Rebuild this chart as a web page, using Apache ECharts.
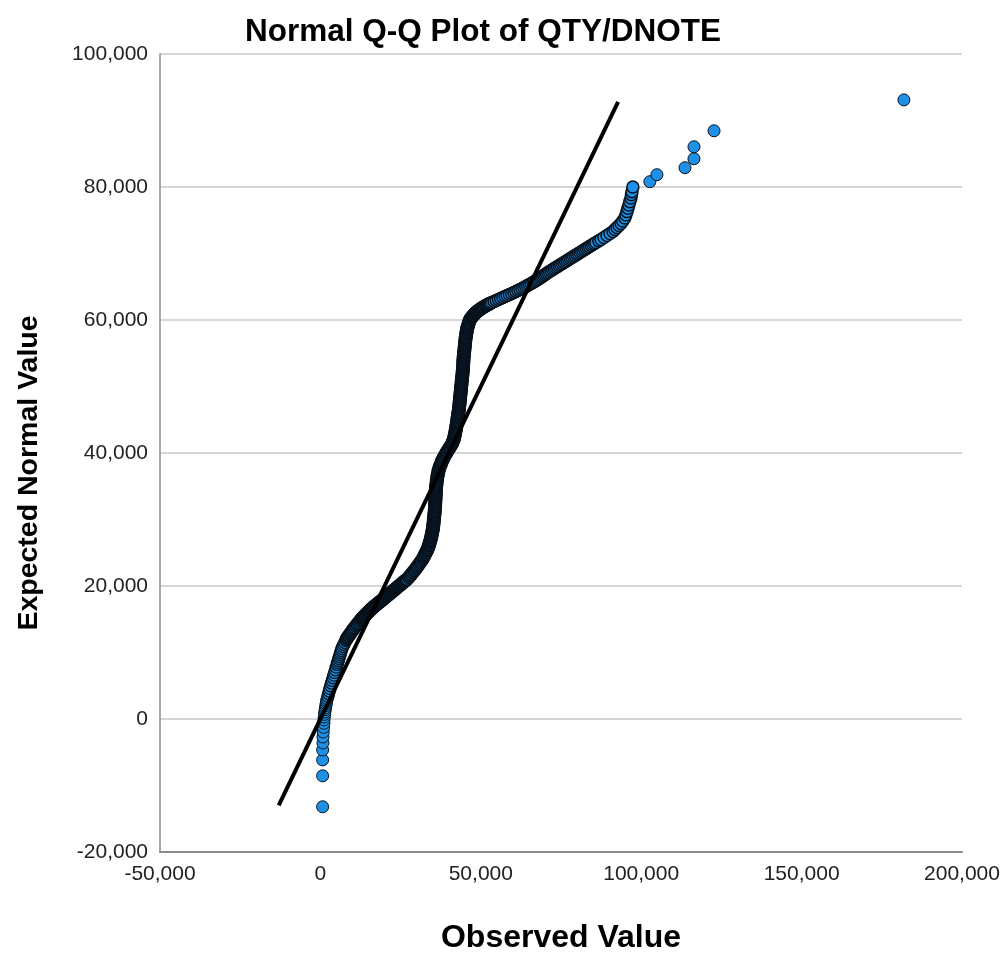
<!DOCTYPE html>
<html><head><meta charset="utf-8">
<script src="https://cdn.jsdelivr.net/npm/echarts@6/dist/echarts.min.js"></script>
<style>html,body{margin:0;padding:0;background:#fff}#c{width:1006px;height:959px}</style>
</head><body><div id="c"></div>
<script>
const chartTitle = 'Normal Q-Q Plot of QTY/DNOTE';
const xAxisTitle = 'Observed Value';
const yAxisTitle = 'Expected Normal Value';
const xTicks = [-50000, 0, 50000, 100000, 150000, 200000];
const yTicks = [-20000, 0, 20000, 40000, 60000, 80000, 100000];

// [observed, expected] pairs
const lowerTail = [[700,-13200],[700,-8550],[700,-6150],[700,-4650],[800,-3600],[800,-2700],[900,-1950],[1000,-1250],[1100,-650],[1100,-150],[1200,300],[1300,700],[1400,1050],[1500,1400],[1600,1700],[1700,2000],[1800,2300],[1900,2550],[2000,2800],[2100,3050]];

const lowerBand = [[2340,3400],[2550,3800],[2760,4200],[2970,4600],[3210,5000],[3460,5400],[3710,5800],[3960,6200],[4210,6600],[4460,7000],[4710,7400],[4960,7800],[5210,8200],[5400,8500],[5580,8800],[5770,9100],[5960,9400],[6150,9700],[6330,10000],[6520,10300],[6710,10600],[7000,10900],[7310,11200],[7620,11500],[7930,11800]];

const lowerMidBand = [[8140,12000],[8450,12250],[8810,12500],[9180,12750],[9540,13000],[9900,13250],[10270,13500],[10650,13750],[11070,14000],[11490,14250],[11900,14500],[12320,14750],[12730,15000],[12970,15125],[13200,15250],[13460,15375],[13720,15500],[13980,15625],[14240,15750],[14500,15875],[14760,16000],[15020,16125],[15270,16250],[15530,16375],[15790,16500],[16080,16625],[16360,16750],[16670,16875],[16980,17000],[17300,17125],[17610,17250],[17920,17375],[18230,17500],[18550,17625],[18860,17750],[19170,17875],[19480,18000],[19790,18125],[20100,18250],[20420,18375],[20730,18500],[21040,18625],[21350,18750],[21670,18875],[21980,19000],[22290,19125],[22600,19250],[22910,19375],[23220,19500],[23540,19625],[23850,19750],[24160,19875],[24470,20000],[24790,20125],[25100,20250],[25410,20375],[25720,20500],[26030,20625],[26340,20750],[26660,20875],[26970,21000],[27500,21250],[27910,21500],[28330,21750],[28740,22000],[29160,22250],[29570,22500],[29970,22750],[30330,23000],[30700,23250],[31060,23500],[31420,23750],[31790,24000]];

const middleBand = [[32100,24250],[32360,24500],[32620,24750],[32880,25000],[33140,25250],[33400,25500],[33610,25750],[33770,26000],[33930,26250],[34080,26500],[34240,26750],[34390,27000],[34520,27250],[34630,27500],[34730,27750],[34840,28000],[34940,28250],[35040,28500],[35120,28750],[35180,29000],[35230,29250],[35280,29500],[35330,29750],[35380,30000],[35430,30250],[35490,30500],[35540,30750],[35590,31000],[35640,31250],[35690,31500],[35730,31750],[35760,32000],[35780,32250],[35810,32500],[35840,32750],[35860,33000],[35890,33250],[35920,33500],[35940,33750],[35970,34000],[35990,34250],[36020,34500],[36060,34750],[36110,35000],[36160,35250],[36210,35500],[36270,35750],[36320,36000],[36400,36250],[36500,36500],[36600,36750],[36710,37000],[36810,37250],[36920,37500],[37070,37750],[37280,38000],[37490,38250],[37700,38500],[37900,38750],[38110,39000],[38360,39250],[38660,39500],[38960,39750],[39250,40000],[39560,40250],[39890,40500],[40210,40750],[40540,41000],[40860,41250],[41130,41500],[41330,41750],[41540,42000],[41700,42250],[41800,42500],[41900,42750],[42010,43000],[42110,43250],[42220,43500],[42310,43750],[42380,44000],[42460,44250],[42540,44500],[42620,44750],[42700,45000],[42770,45250],[42850,45500],[42930,45750],[43010,46000],[43090,46250],[43160,46500],[43230,46750],[43280,47000],[43330,47250],[43380,47500],[43440,47750],[43490,48000],[43540,48250],[43590,48500],[43650,48750],[43700,49000],[43750,49250],[43800,49500],[43850,49750],[43900,50000],[43960,50250],[44010,50500],[44060,50750],[44110,51000],[44160,51250],[44220,51500],[44270,51750],[44320,52000],[44370,52250],[44420,52500],[44460,52750],[44490,53000],[44510,53250],[44540,53500],[44570,53750],[44590,54000],[44630,54250],[44680,54500],[44740,54750],[44790,55000],[44840,55250],[44890,55500],[44940,55750],[45000,56000],[45050,56250],[45100,56500],[45150,56750],[45200,57000],[45270,57250],[45350,57500],[45430,57750],[45510,58000],[45580,58250],[45660,58500],[45780,58750],[45940,59000],[46090,59250],[46250,59500],[46400,59750],[46560,60000],[46880,60250],[47100,60375],[47330,60500],[47550,60625],[47770,60750],[48000,60875],[48220,61000],[48500,61125],[48770,61250],[49130,61375],[49490,61500],[49850,61625],[50220,61750],[50620,61875],[51020,62000],[51490,62125],[51960,62250],[52430,62375],[52900,62500]];

const upperBand = [[53450,62650],[54140,62800],[54820,62950],[55510,63100],[56190,63250],[56880,63400],[57570,63550],[58250,63700],[58940,63850],[59630,64000],[60310,64150],[60940,64300],[61560,64450],[62190,64600],[62810,64750],[63430,64900],[64000,65050],[64560,65200],[65120,65350],[65680,65500],[66250,65650],[66750,65800],[67250,65950],[67750,66100],[68240,66250],[68740,66400],[69180,66550],[69620,66700],[70050,66850],[70490,67000],[70930,67150],[71430,67300],[71920,67450],[72420,67600],[72920,67750],[73420,67900],[73920,68050],[74420,68200],[74920,68350],[75420,68500],[75920,68650],[76420,68800],[76910,68950],[77410,69100],[77910,69250],[78410,69400],[78910,69550],[79410,69700],[79910,69850],[80410,70000],[80910,70150],[81410,70300],[81900,70450],[82400,70600],[82900,70750],[83400,70900],[83900,71050],[84400,71200],[84900,71350],[85400,71500],[85900,71650],[86760,71900],[87460,72100],[88390,72400],[89330,72700],[90260,73000],[91200,73300],[91820,73600],[92450,73900],[93070,74200],[93700,74500],[94250,74900],[94880,75350],[95220,75800],[95570,76300],[95870,76800],[96160,77300],[96460,77800],[96790,78350],[96970,78850],[97130,79300],[97400,80000]];

const upperTail = [[102700,80800],[104900,81850],[113650,82900],[116450,84250],[116450,86050],[122700,88450],[181900,93100]];

// reference line (expected = observed), endpoints
const refLine = [[-13000,-13000],[92800,92800]];

const FONT = '"Liberation Sans", Arial, sans-serif';
const fmt = v => Number(v).toLocaleString('en-US');
const MARK_FILL = '#1e90e6';
const MARK_EDGE = '#08121c';

function pointSeries(data, edgeWidth) {
  return {
    type: 'scatter', data: data, symbol: 'circle', symbolSize: 12, z: 2,
    itemStyle: {color: MARK_FILL, borderColor: MARK_EDGE, borderWidth: edgeWidth, opacity: 1}
  };
}

const chart = echarts.init(document.getElementById('c'), null, {renderer: 'canvas'});
chart.setOption({
  animation: false,
  backgroundColor: '#ffffff',
  title: {
    text: chartTitle, left: 240, top: 11,
    textStyle: {fontFamily: FONT, fontSize: 31.5, fontWeight: 'bold', color: '#000'}
  },
  grid: {left: 160, right: 44, top: 54, bottom: 104, containLabel: false},
  xAxis: {
    type: 'value',
    min: xTicks[0], max: xTicks[xTicks.length - 1], interval: xTicks[1] - xTicks[0],
    name: xAxisTitle, nameLocation: 'middle', nameGap: 70,
    nameTextStyle: {fontFamily: FONT, fontSize: 32, fontWeight: 'bold', color: '#000'},
    axisLine: {show: true, onZero: false, lineStyle: {color: '#8c8c8c', width: 2}},
    axisTick: {show: false},
    splitLine: {show: false},
    axisLabel: {formatter: fmt, fontFamily: FONT, fontSize: 21, color: '#222', margin: 12}
  },
  yAxis: {
    type: 'value',
    min: yTicks[0], max: yTicks[yTicks.length - 1], interval: yTicks[1] - yTicks[0],
    axisLine: {show: true, onZero: false, lineStyle: {color: '#8c8c8c', width: 1.5}},
    axisTick: {show: false},
    splitLine: {show: true, lineStyle: {color: '#c8c8c8', width: 1.5}},
    axisLabel: {formatter: fmt, fontFamily: FONT, fontSize: 21, color: '#222', margin: 12}
  },
  graphic: [{
    type: 'text', x: 29, y: 473, rotation: Math.PI / 2,
    style: {text: yAxisTitle, fontFamily: FONT, fontSize: 28.5, fontWeight: 'bold', fill: '#000',
            textAlign: 'center', textVerticalAlign: 'middle'}
  }],
  series: [
    pointSeries(lowerTail, 1),
    pointSeries(lowerBand, 1.3),
    pointSeries(lowerMidBand, 1.9),
    pointSeries(middleBand, 2),
    pointSeries(upperBand, 1.5),
    pointSeries(upperTail, 1),
    {
      type: 'line', data: refLine, symbol: 'none', z: 3,
      lineStyle: {color: '#000', width: 4}
    }
  ]
});
</script></body></html>
